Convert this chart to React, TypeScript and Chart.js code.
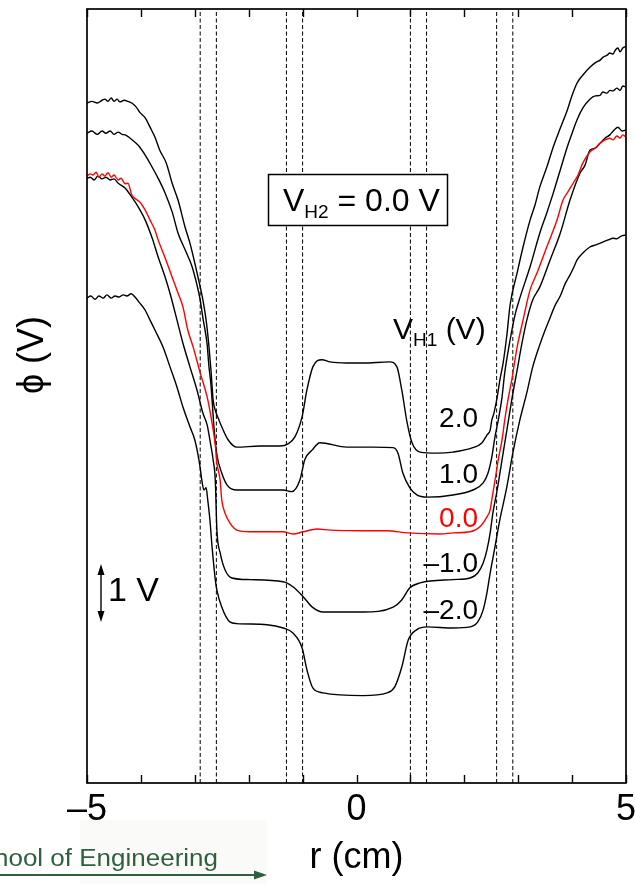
import React, { useEffect, useRef } from 'react';
import { Chart, registerables } from 'chart.js';

Chart.register(...registerables);

// ---- axes ----
const R_MIN = -5;
const R_MAX = 5;
const PHI_MIN = -4.55;
const PHI_MAX = 9.53;
const R_LABELS: Record<string, string> = { '-5': '\u20135', '0': '0', '5': '5' };

// electrode edges (dashed verticals), cm
const ELECTRODE_EDGES = [-2.9, -2.6, -1.3, -1.0, 1.0, 1.3, 2.6, 2.9];

// V_H1 values (labels next to curves)
const VH1_LABELS = ['2.0', '1.0', '0.0', '\u20131.0', '\u20132.0'];

// ---- curves: [r (cm), phi (V)] ----
const curveP2: [number, number][] = [
  [-5.0, 7.82], [-4.91, 7.85], [-4.81, 7.82], [-4.72, 7.87], [-4.67, 7.89], [-4.61, 7.85], [-4.55, 7.91],
  [-4.5, 7.85], [-4.44, 7.89], [-4.39, 7.84], [-4.31, 7.87], [-4.24, 7.85], [-4.17, 7.82], [-4.09, 7.75],
  [-4.02, 7.65], [-3.92, 7.55], [-3.83, 7.38], [-3.74, 7.2], [-3.65, 6.96], [-3.53, 6.73], [-3.42, 6.36],
  [-3.31, 6.05], [-3.18, 5.56], [-3.09, 5.27], [-2.94, 4.65], [-2.85, 4.24], [-2.79, 3.87], [-2.74, 3.42],
  [-2.7, 2.96], [-2.66, 2.42], [-2.61, 2.2], [-2.55, 2.05], [-2.5, 1.93], [-2.38, 1.69], [-2.22, 1.56],
  [-1.79, 1.58], [-1.42, 1.58], [-1.27, 1.62], [-1.14, 1.75], [-1.01, 2.11], [-0.92, 2.6], [-0.81, 3.02],
  [-0.64, 3.15], [-0.49, 3.11], [-0.18, 3.09], [0.12, 3.09], [0.62, 3.11], [0.75, 3.02], [0.84, 2.6],
  [0.94, 2.0], [1.03, 1.64], [1.18, 1.47], [1.49, 1.45], [1.79, 1.47], [2.16, 1.55], [2.33, 1.64],
  [2.42, 1.78], [2.48, 1.87], [2.51, 2.05], [2.55, 2.18], [2.61, 2.47], [2.66, 2.78], [2.72, 3.09],
  [2.79, 3.6], [2.85, 4.15], [2.98, 4.73], [3.09, 5.2], [3.22, 5.69], [3.31, 5.96], [3.4, 6.29],
  [3.53, 6.65], [3.65, 7.02], [3.78, 7.36], [3.91, 7.69], [4.0, 7.96], [4.09, 8.18], [4.2, 8.33],
  [4.33, 8.47], [4.44, 8.56], [4.52, 8.6], [4.57, 8.65], [4.65, 8.69], [4.7, 8.73], [4.76, 8.71],
  [4.8, 8.78], [4.85, 8.82], [4.89, 8.75], [4.94, 8.82], [5.0, 8.85],
];

const curveP1: [number, number][] = [
  [-5.0, 7.27], [-4.91, 7.31], [-4.81, 7.25], [-4.72, 7.31], [-4.65, 7.27], [-4.57, 7.31], [-4.5, 7.25],
  [-4.42, 7.29], [-4.35, 7.25], [-4.29, 7.24], [-4.2, 7.18], [-4.05, 7.05], [-3.92, 6.87], [-3.79, 6.65],
  [-3.68, 6.45], [-3.55, 6.18], [-3.42, 5.84], [-3.31, 5.45], [-3.18, 5.15], [-3.05, 4.84], [-2.96, 4.51],
  [-2.9, 4.24], [-2.85, 3.91], [-2.81, 3.69], [-2.77, 3.42], [-2.74, 3.05], [-2.7, 2.69], [-2.68, 2.42],
  [-2.64, 1.87], [-2.59, 1.42], [-2.5, 1.09], [-2.4, 0.87], [-2.22, 0.78], [-1.79, 0.78], [-1.36, 0.78],
  [-1.2, 0.75], [-1.05, 0.96], [-0.96, 1.33], [-0.82, 1.51], [-0.68, 1.64], [-0.18, 1.56], [0.31, 1.56],
  [0.68, 1.55], [0.77, 1.45], [0.86, 1.09], [0.99, 0.82], [1.12, 0.69], [1.31, 0.65], [1.79, 0.69],
  [2.16, 0.78], [2.35, 0.91], [2.44, 1.09], [2.51, 1.38], [2.57, 1.75], [2.63, 2.05], [2.7, 2.47],
  [2.75, 2.91], [2.85, 3.51], [2.94, 3.96], [3.03, 4.27], [3.22, 4.84], [3.4, 5.45], [3.53, 5.82],
  [3.65, 6.18], [3.78, 6.6], [3.91, 7.02], [4.0, 7.27], [4.09, 7.51], [4.2, 7.73], [4.33, 7.89],
  [4.43, 7.95], [4.52, 7.96], [4.57, 8.02], [4.65, 8.0], [4.7, 8.05], [4.76, 8.04], [4.83, 8.09],
  [4.89, 8.05], [4.94, 8.13], [5.0, 8.11],
];

const curve0: [number, number][] = [
  [-5.0, 6.49], [-4.94, 6.53], [-4.89, 6.51], [-4.83, 6.56], [-4.78, 6.47], [-4.72, 6.53], [-4.67, 6.49],
  [-4.61, 6.55], [-4.55, 6.47], [-4.5, 6.51], [-4.42, 6.42], [-4.37, 6.45], [-4.29, 6.35], [-4.24, 6.36],
  [-4.17, 6.15], [-4.09, 6.07], [-4.02, 6.02], [-3.92, 5.87], [-3.83, 5.69], [-3.74, 5.51], [-3.68, 5.33],
  [-3.55, 5.0], [-3.42, 4.65], [-3.31, 4.36], [-3.22, 4.11], [-3.13, 3.69], [-3.03, 3.38], [-2.9, 2.91],
  [-2.77, 2.47], [-2.68, 2.0], [-2.62, 1.6], [-2.59, 1.27], [-2.53, 0.96], [-2.5, 0.6], [-2.44, 0.36],
  [-2.35, 0.18], [-2.22, 0.05], [-1.98, 0.02], [-1.36, 0.02], [-1.18, -0.02], [-0.99, 0.02], [-0.73, 0.07],
  [-0.49, 0.05], [0.12, 0.04], [0.57, 0.04], [0.94, 0.0], [1.55, -0.02], [1.79, 0.0], [2.11, 0.02],
  [2.29, 0.11], [2.42, 0.29], [2.48, 0.42], [2.51, 0.6], [2.57, 0.96], [2.63, 1.33], [2.7, 1.69],
  [2.75, 2.05], [2.81, 2.42], [2.88, 2.78], [2.98, 3.38], [3.09, 3.87], [3.22, 4.42], [3.35, 4.73],
  [3.53, 5.2], [3.72, 5.69], [3.83, 6.05], [3.92, 6.2], [4.02, 6.36], [4.11, 6.51], [4.2, 6.73],
  [4.33, 6.93], [4.43, 7.0], [4.52, 7.09], [4.61, 7.15], [4.7, 7.18], [4.76, 7.15], [4.83, 7.22],
  [4.89, 7.18], [4.94, 7.24], [5.0, 7.2],
];

const curveM1: [number, number][] = [
  [-5.0, 6.45], [-4.94, 6.47], [-4.87, 6.42], [-4.8, 6.49], [-4.72, 6.44], [-4.65, 6.47], [-4.57, 6.42],
  [-4.5, 6.44], [-4.42, 6.36], [-4.29, 6.27], [-4.17, 6.11], [-4.05, 5.93], [-3.92, 5.69], [-3.79, 5.36],
  [-3.68, 5.02], [-3.55, 4.65], [-3.46, 4.36], [-3.33, 3.87], [-3.22, 3.45], [-3.09, 3.02], [-2.96, 2.6],
  [-2.85, 2.18], [-2.77, 1.96], [-2.72, 1.69], [-2.66, 1.33], [-2.62, 0.96], [-2.59, 0.05], [-2.53, -0.36],
  [-2.44, -0.67], [-2.31, -0.82], [-1.98, -0.85], [-1.36, -0.89], [-1.18, -0.98], [-0.99, -1.16],
  [-0.82, -1.35], [-0.62, -1.44], [0.12, -1.44], [0.68, -1.35], [0.84, -1.22], [0.99, -1.0], [1.18, -0.91],
  [1.79, -0.85], [2.11, -0.82], [2.25, -0.73], [2.35, -0.55], [2.42, -0.31], [2.48, 0.0], [2.53, 0.36],
  [2.61, 0.78], [2.7, 1.33], [2.79, 1.87], [2.88, 2.42], [2.98, 2.96], [3.07, 3.45], [3.16, 3.87],
  [3.27, 4.24], [3.4, 4.47], [3.59, 4.96], [3.78, 5.45], [3.96, 6.05], [4.15, 6.55], [4.24, 6.69],
  [4.33, 6.96], [4.43, 7.0], [4.52, 7.09], [4.61, 7.18], [4.7, 7.24], [4.78, 7.33], [4.85, 7.38],
  [4.93, 7.31], [5.0, 7.33],
];

const curveM2: [number, number][] = [
  [-5.0, 4.27], [-4.93, 4.31], [-4.85, 4.25], [-4.78, 4.31], [-4.7, 4.27], [-4.63, 4.33], [-4.55, 4.27],
  [-4.48, 4.31], [-4.41, 4.29], [-4.33, 4.33], [-4.26, 4.31], [-4.18, 4.35], [-4.11, 4.29], [-4.02, 4.18],
  [-3.92, 4.05], [-3.83, 3.87], [-3.74, 3.69], [-3.59, 3.38], [-3.46, 3.02], [-3.33, 2.65], [-3.22, 2.29],
  [-3.09, 1.93], [-3.0, 1.69], [-2.94, 1.42], [-2.9, 1.18], [-2.87, 0.96], [-2.83, 0.78], [-2.79, 0.82],
  [-2.76, 0.6], [-2.72, 0.24], [-2.68, -0.25], [-2.62, -0.85], [-2.59, -1.04], [-2.5, -1.35],
  [-2.35, -1.62], [-2.22, -1.65], [-1.66, -1.67], [-1.36, -1.73], [-1.18, -1.82], [-1.01, -2.09],
  [-0.92, -2.49], [-0.81, -2.82], [-0.62, -2.91], [0.12, -2.96], [0.57, -2.91], [0.71, -2.8], [0.84, -2.44],
  [0.96, -1.95], [1.12, -1.76], [1.31, -1.71], [1.79, -1.73], [2.11, -1.71], [2.25, -1.62], [2.35, -1.4],
  [2.42, -1.09], [2.48, -0.73], [2.57, -0.25], [2.66, 0.24], [2.79, 0.84], [2.9, 1.45], [3.03, 2.05],
  [3.16, 2.55], [3.27, 3.02], [3.4, 3.42], [3.5, 3.69], [3.59, 3.91], [3.68, 4.13], [3.78, 4.31],
  [3.87, 4.53], [3.96, 4.69], [4.04, 4.85], [4.09, 4.96], [4.2, 5.09], [4.33, 5.2], [4.44, 5.24],
  [4.57, 5.29], [4.67, 5.33], [4.76, 5.36], [4.83, 5.35], [4.91, 5.4], [5.0, 5.42],
];

const CURVES = [
  { name: '2.0', pts: curveP2, color: '#000000' },
  { name: '1.0', pts: curveP1, color: '#000000' },
  { name: '-1.0', pts: curveM1, color: '#000000' },
  { name: '-2.0', pts: curveM2, color: '#000000' },
  { name: '0.0', pts: curve0, color: '#ff0000' },
];

const FONT = '"Liberation Sans", Arial, Helvetica, sans-serif';

function drawSub(
  ctx: CanvasRenderingContext2D, x: number, base: number,
  main: string, sub: string, rest: string, size: number, subSize: number, drop: number,
) {
  ctx.textAlign = 'left';
  ctx.textBaseline = 'alphabetic';
  ctx.font = `${size}px ${FONT}`;
  ctx.fillText(main, x, base);
  let cx = x + ctx.measureText(main).width;
  ctx.font = `${subSize}px ${FONT}`;
  ctx.fillText(sub, cx, base + drop);
  cx += ctx.measureText(sub).width;
  ctx.font = `${size}px ${FONT}`;
  ctx.fillText(rest, cx, base);
}

const decorPlugin = {
  id: 'decor',
  afterDatasetsDraw(chart: any) {
    const { ctx, chartArea: a, scales } = chart;
    const xs = scales.x;
    ctx.save();

    // frame
    ctx.strokeStyle = '#000';
    ctx.lineWidth = 1.7;
    ctx.strokeRect(a.left, a.top, a.right - a.left, a.bottom - a.top);

    // inward ticks top & bottom
    ctx.lineWidth = 1.4;
    ctx.beginPath();
    for (const t of xs.ticks) {
      const px = Math.round(xs.getPixelForValue(t.value)) + 0.5;
      ctx.moveTo(px, a.bottom);
      ctx.lineTo(px, a.bottom - 8);
      ctx.moveTo(px, a.top);
      ctx.lineTo(px, a.top + 8);
    }
    ctx.stroke();

    // V_H2 box
    ctx.fillStyle = '#fff';
    ctx.fillRect(268, 174, 180, 52);
    ctx.lineWidth = 1.5;
    ctx.strokeRect(268.5, 174.5, 179, 51);
    ctx.fillStyle = '#000';
    drawSub(ctx, 283, 211, 'V', 'H2', ' = 0.0 V', 32, 19, 7);

    // V_H1 (V)
    drawSub(ctx, 393, 339, 'V', 'H1', ' (V)', 30, 19, 7);

    // curve labels
    const bases = [427, 483, 527, 572, 619];
    ctx.font = `28px ${FONT}`;
    ctx.textAlign = 'right';
    ctx.textBaseline = 'alphabetic';
    VH1_LABELS.forEach((s, i) => {
      ctx.fillStyle = i === 2 ? '#ff0000' : '#000';
      ctx.fillText(s, 478, bases[i]);
    });
    ctx.fillStyle = '#000';

    // 1 V scale arrow
    ctx.lineWidth = 1.4;
    ctx.beginPath();
    ctx.moveTo(101, 572);
    ctx.lineTo(101, 614);
    ctx.stroke();
    ctx.beginPath();
    ctx.moveTo(101, 564); ctx.lineTo(97.5, 575); ctx.lineTo(104.5, 575); ctx.closePath();
    ctx.moveTo(101, 622); ctx.lineTo(97.5, 611); ctx.lineTo(104.5, 611); ctx.closePath();
    ctx.fill();
    ctx.font = `34px ${FONT}`;
    ctx.textAlign = 'left';
    ctx.fillText('1 V', 108, 601);

    // y-axis title
    ctx.save();
    ctx.translate(33, 355);
    ctx.rotate(-Math.PI / 2);
    ctx.font = `36px ${FONT}`;
    ctx.textAlign = 'center';
    ctx.textBaseline = 'middle';
    ctx.fillText('\u03D5 (V)', 0, 0);
    ctx.restore();

    // watermark
    ctx.fillStyle = '#fafaf8';
    ctx.fillRect(80, 820, 187, 64);
    ctx.fillStyle = '#2f5f3f';
    ctx.font = `23px ${FONT}`;
    ctx.textAlign = 'right';
    const visW = ctx.measureText('hool of Engineering').width;
    const sx = 224 / visW;
    ctx.save();
    ctx.translate(218, 866);
    ctx.scale(sx, 1);
    ctx.fillText('School of Engineering', 0, 0);
    ctx.restore();
    ctx.strokeStyle = '#2f5f3f';
    ctx.lineWidth = 2;
    ctx.beginPath();
    ctx.moveTo(0, 875);
    ctx.lineTo(256, 875);
    ctx.stroke();
    ctx.beginPath();
    ctx.moveTo(267, 875); ctx.lineTo(254, 870.5); ctx.lineTo(254, 879.5); ctx.closePath();
    ctx.fill();

    ctx.restore();
  },
};

export default function App() {
  const ref = useRef<HTMLCanvasElement | null>(null);

  useEffect(() => {
    const canvas = ref.current;
    if (!canvas) return;

    const dashed = ELECTRODE_EDGES.map((r) => ({
      data: [{ x: r, y: PHI_MIN }, { x: r, y: PHI_MAX }],
      borderColor: '#000',
      borderWidth: 1,
      borderDash: [4, 2.5],
      pointRadius: 0,
      showLine: true,
      fill: false,
      order: 10,
    }));

    const lines = CURVES.map((c, i) => ({
      label: c.name,
      data: c.pts.map(([x, y]) => ({ x, y })),
      borderColor: c.color,
      borderWidth: 1.4,
      pointRadius: 0,
      showLine: true,
      fill: false,
      cubicInterpolationMode: 'monotone' as const,
      order: 5 - i,
    }));

    const chart = new Chart(canvas, {
      type: 'scatter',
      data: { datasets: [...dashed, ...lines] as any },
      options: {
        animation: false,
        responsive: false,
        devicePixelRatio: 1,
        layout: { padding: { left: 87, right: 9, top: 9, bottom: 0 } },
        plugins: { legend: { display: false }, tooltip: { enabled: false } },
        scales: {
          x: {
            type: 'linear',
            min: R_MIN,
            max: R_MAX,
            afterFit: (s: any) => {
              s.height = 101;
              s.paddingLeft = 0;
              s.paddingRight = 0;
            },
            ticks: {
              stepSize: 1,
              autoSkip: false,
              maxRotation: 0,
              minRotation: 0,
              padding: 5,
              color: '#000',
              font: { size: 36, family: FONT },
              callback: (v: any) => R_LABELS[String(v)] ?? '',
            },
            grid: { display: false, drawTicks: false },
            border: { display: false },
            title: {
              display: true,
              text: 'r (cm)',
              color: '#000',
              font: { size: 36, family: FONT },
              padding: { top: 0, bottom: 4 },
            },
          },
          y: { type: 'linear', min: PHI_MIN, max: PHI_MAX, display: false },
        },
      },
      plugins: [decorPlugin],
    });

    return () => chart.destroy();
  }, []);

  return (
    <div style={{ position: 'absolute', left: 0, top: 0, width: 635, height: 884, background: '#fff' }}>
      <canvas ref={ref} width={635} height={884} style={{ display: 'block', width: 635, height: 884 }} />
    </div>
  );
}
